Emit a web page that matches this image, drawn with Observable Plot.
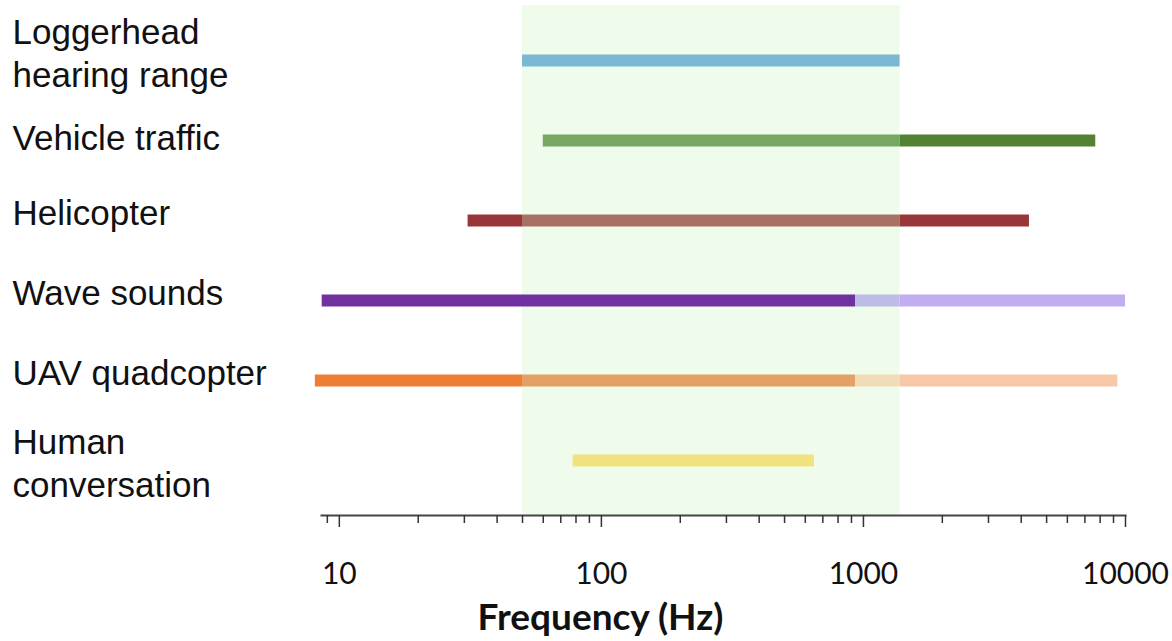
<!DOCTYPE html>
<html>
<head>
<meta charset="utf-8">
<script src="https://cdn.jsdelivr.net/npm/d3@7"></script>
<script src="https://cdn.jsdelivr.net/npm/@observablehq/plot@0.6"></script>
<style>
  html, body { margin: 0; padding: 0; background: #fff; }
  #chart { width: 1172px; height: 641px; }
</style>
</head>
<body>
<div id="chart"></div>
<script>
// Categories (top to bottom)
const categories = [
  "Loggerhead\nhearing range",
  "Vehicle traffic",
  "Helicopter",
  "Wave sounds",
  "UAV quadcopter",
  "Human\nconversation"
];

// Frequency segments (Hz) for each category
const segCategory = [
  "Loggerhead\nhearing range",
  "Vehicle traffic", "Vehicle traffic",
  "Helicopter", "Helicopter", "Helicopter",
  "Wave sounds", "Wave sounds", "Wave sounds",
  "UAV quadcopter", "UAV quadcopter", "UAV quadcopter", "UAV quadcopter",
  "Human\nconversation"
];
const segLow  = [50, 60, 1380, 31, 50, 1380, 8.6, 935, 1380, 8.1, 50, 935, 1380, 78];
const segHigh = [1380, 1380, 7700, 50, 1380, 4300, 935, 1380, 10000, 50, 935, 1380, 9350, 650];
const segColor = [
  "#7ab8d5",
  "#77a862", "#548235",
  "#98363a", "#a87163", "#98363a",
  "#7030a0", "#bcbce6", "#c1aef0",
  "#ee7e33", "#e3a165", "#f0dcb8", "#f7c8a7",
  "#f2e27f"
];

// Loggerhead hearing band (Hz)
const hearingBand = [{low: 50, high: 1380}];

// Axis ticks
const majorTicks = [10, 100, 1000, 10000];
const minorTicks = [9, 20, 30, 40, 50, 60, 70, 80, 90,
                    200, 300, 400, 500, 600, 700, 800, 900,
                    2000, 3000, 4000, 5000, 6000, 7000, 8000, 9000];
const xDomain = [8.55, 10000];
const xLabel = "Frequency (Hz)";

const segments = segCategory.map((c, i) => ({
  cat: c, low: segLow[i], high: segHigh[i], color: segColor[i]
}));

const labelStyle = {
  frameAnchor: "left", textAnchor: "start", dx: -309,
  fontSize: 35, lineHeight: 1.23, fill: "#111"
};

const chart = Plot.plot({
  width: 1172,
  height: 641,
  marginTop: 5,
  marginBottom: 126,
  marginLeft: 321,
  marginRight: 47,
  style: {fontFamily: "'Liberation Sans', Arial, sans-serif", background: "#fff"},
  x: {type: "log", domain: xDomain, label: null},
  y: {type: "point", domain: categories, padding: 0.656, axis: null},
  color: {type: "identity"},
  marks: [
    Plot.rect(hearingBand, {x1: "low", x2: "high", fill: "#effcec"}),
    Plot.ruleY(segments, {y: "cat", x1: "low", x2: "high", stroke: "color", strokeWidth: 12}),
    Plot.text([categories[0], ...categories.slice(2, 5)], {y: d => d, text: d => d, dy: -9, ...labelStyle}),
    Plot.text([categories[1]], {y: d => d, text: d => d, dy: -4, ...labelStyle}),
    Plot.text(categories.slice(5), {y: d => d, text: d => d, dy: 1, ...labelStyle}),
    Plot.frame({anchor: "bottom", stroke: "#444", strokeWidth: 2}),
    Plot.axisX(minorTicks, {
      anchor: "bottom", tickSize: 8, tickFormat: () => "", stroke: "#333",
      strokeWidth: 1.5, label: null
    }),
    Plot.axisX(majorTicks, {
      anchor: "bottom", tickSize: 12, tickPadding: 35, tickFormat: d => String(d),
      stroke: "#333", strokeWidth: 1.5, fontSize: 30, fontFamily: "Lato",
      fill: "#111", label: null
    }),
    Plot.text([xLabel], {
      text: d => d, frameAnchor: "bottom", lineAnchor: "middle", dx: -123, dy: 103,
      fontSize: 37, fontWeight: "bold", fontFamily: "Lato", fill: "#111"
    })
  ]
});

document.getElementById("chart").appendChild(chart);
</script>
</body>
</html>
